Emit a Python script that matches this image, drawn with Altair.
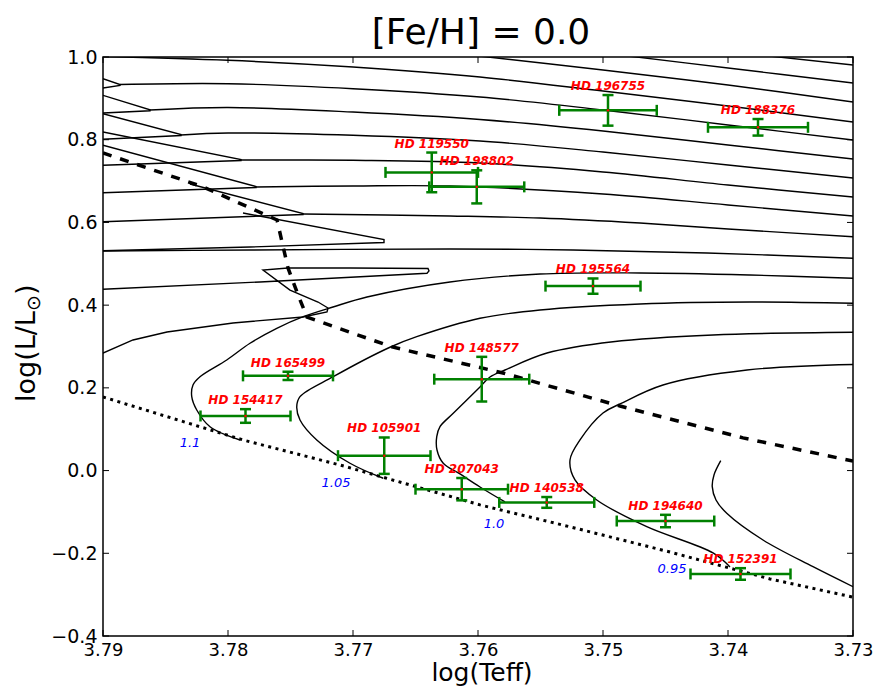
import altair as alt
import pandas as pd

FONT = "DejaVu Sans"
GREEN = "#008000"
W, H = 750, 579

# ---------------- axes ----------------
x_ticks = [3.79, 3.78, 3.77, 3.76, 3.75, 3.74, 3.73]
y_ticks = [-0.4, -0.2, 0.0, 0.2, 0.4, 0.6, 0.8, 1.0]

# ---------------- stars ----------------
star_names = ["HD 196755", "HD 188376", "HD 119550", "HD 198802", "HD 195564",
              "HD 165499", "HD 154417", "HD 105901", "HD 207043", "HD 148577",
              "HD 140538", "HD 194640", "HD 152391"]
star_logteff = [3.7496, 3.7376, 3.7637, 3.7601, 3.7508, 3.7752, 3.7786,
                3.7675, 3.7613, 3.7597, 3.7545, 3.7450, 3.7390]
star_logteff_err = [0.0039, 0.0040, 0.0037, 0.0038, 0.0038, 0.0036, 0.0036,
                    0.0037, 0.0037, 0.0038, 0.0038, 0.0039, 0.0040]
star_logl = [0.871, 0.830, 0.721, 0.686, 0.446, 0.229, 0.132,
             0.036, -0.045, 0.221, -0.077, -0.122, -0.250]
star_logl_err = [0.037, 0.020, 0.048, 0.040, 0.0185, 0.010, 0.0165,
                 0.044, 0.027, 0.054, 0.013, 0.015, 0.014]

# ---------------- mass labels on the ZAMS ----------------
mass_labels = ["1.1", "1.05", "1.0", "0.95"]
mass_logteff = [3.78304, 3.77136, 3.75872, 3.74448]
mass_logl = [0.0667, -0.030, -0.129, -0.238]

# ---------------- ZAMS (dotted) and TAMS (dashed) ----------------
zams_t = [3.79, 3.7788, 3.77104, 3.75984, 3.75264, 3.74464, 3.73664, 3.73]
zams_l = [0.178, 0.074, 0.0135, -0.083, -0.136, -0.197, -0.262, -0.306]
tams_t = [3.79, 3.782, 3.77608, 3.7752, 3.7744, 3.77368, 3.76688, 3.758, 3.74864, 3.7388, 3.73]
tams_l = [0.768, 0.686, 0.606, 0.490, 0.425, 0.371, 0.299, 0.236, 0.156, 0.079, 0.023]

# ---------------- evolutionary tracks (smooth curves) ----------------
trk090_t = [3.74058, 3.74112, 3.74126, 3.74096, 3.7401, 3.7372, 3.7332, 3.73]
trk090_l = [0.0239, -0.0106, -0.0389, -0.0711, -0.1032, -0.1678, -0.2324, -0.2807]
trk095_t = [3.73984, 3.7412, 3.7465, 3.7505, 3.75224, 3.75264, 3.75184, 3.7500, 3.74864, 3.7452, 3.73848, 3.73]
trk095_l = [-0.2331, -0.1992, -0.1356, -0.0711, -0.0227, 0.0256, 0.0740, 0.1393, 0.1610, 0.2070, 0.2432, 0.2565]
trk100_t = [3.75784, 3.75984, 3.76144, 3.76278, 3.76328, 3.7633, 3.76304, 3.76198, 3.75984, 3.75904,
            3.75784, 3.75448, 3.7492, 3.7412, 3.73]
trk100_l = [-0.0759, -0.0397, -0.0082, 0.0177, 0.0498, 0.0820, 0.1061, 0.1385, 0.2021, 0.2263,
            0.2432, 0.2843, 0.3116, 0.3279, 0.3344]
trk105_t = [3.76758, 3.77024, 3.7729, 3.77424, 3.7745, 3.77424, 3.77158, 3.7670, 3.7649, 3.75984,
            3.75504, 3.74704, 3.73824, 3.73]
trk105_l = [-0.0186, 0.0177, 0.0740, 0.1223, 0.1545, 0.1787, 0.2270, 0.2988, 0.3237, 0.3682,
            0.3883, 0.4028, 0.4076, 0.4045]
trk110_t = [3.77904, 3.78144, 3.7825, 3.7829, 3.7828, 3.78224, 3.7801, 3.77824, 3.7761, 3.77398,
            3.7716, 3.76888, 3.76224, 3.75504, 3.74704, 3.73824, 3.73]
trk110_l = [0.0740, 0.1061, 0.1465, 0.1787, 0.2070, 0.2270, 0.2674, 0.3078, 0.3440, 0.3721,
            0.3955, 0.4197, 0.4560, 0.4753, 0.4778, 0.4729, 0.4649]

# long sub-giant branches crossing the plot
top1_t = [3.76064, 3.75, 3.74, 3.73]
top1_l = [1.0048, 0.9686, 0.9323, 0.8912]
top2_t = [3.74864, 3.74, 3.73]
top2_l = [1.0048, 0.9734, 0.9371]
top3_t = [3.73744, 3.73]
top3_l = [1.0048, 0.9807]
linea_t = [3.7912, 3.78, 3.77, 3.75984, 3.75, 3.74, 3.73]
linea_l = [1.002, 0.992, 0.9758, 0.9516, 0.9178, 0.8815, 0.8428]
long1_t = [3.78864, 3.78, 3.77, 3.75984, 3.75, 3.74, 3.73]
long1_l = [0.9335, 0.9354, 0.9234, 0.9033, 0.8719, 0.8356, 0.7993]
long2_t = [3.78624, 3.78, 3.77, 3.75984, 3.75, 3.74, 3.73]
long2_l = [0.8719, 0.8779, 0.867, 0.8489, 0.8211, 0.7872, 0.7534]
long3_t = [3.78376, 3.78, 3.77, 3.75984, 3.75, 3.74, 3.73]
long3_l = [0.8114, 0.8162, 0.8107, 0.7969, 0.7703, 0.7389, 0.7074]
long4_t = [3.77896, 3.77, 3.75984, 3.75, 3.74, 3.73]
long4_l = [0.751, 0.7502, 0.7437, 0.722, 0.6905, 0.6615]
long5_t = [3.77776, 3.77, 3.76224, 3.75, 3.74, 3.73]
long5_l = [0.6857, 0.6881, 0.6881, 0.6688, 0.6422, 0.6156]
long6_t = [3.774, 3.76224, 3.75504, 3.74704, 3.74, 3.73]
long6_l = [0.6204, 0.6156, 0.6107, 0.5986, 0.5841, 0.5655]
long7_t = [3.79, 3.77824, 3.76224, 3.7524, 3.74168, 3.73]
long7_l = [0.5309, 0.5334, 0.5358, 0.5334, 0.5261, 0.5133]

# ---------------- hooks (straight segments) ----------------
hook1_t = [3.79, 3.78864, 3.78864, 3.79]
hook1_l = [0.9475, 0.9335, 0.9311, 0.925]
hook2_t = [3.79, 3.78624, 3.78624, 3.79]
hook2_l = [0.9074, 0.8723, 0.8699, 0.8646]
hook3_t = [3.79, 3.78376, 3.78376, 3.79]
hook3_l = [0.8629, 0.8126, 0.8102, 0.801]
hook4_t = [3.79, 3.77896, 3.77896, 3.79]
hook4_l = [0.8187, 0.7522, 0.7498, 0.7382]
hook5_t = [3.79, 3.77776, 3.77776, 3.79]
hook5_l = [0.7865, 0.6869, 0.6845, 0.6719]
hook6_t = [3.78304, 3.774, 3.774, 3.79]
hook6_l = [0.6929, 0.6216, 0.6192, 0.6018]
hook7_t = [3.7788, 3.76752, 3.76752, 3.77824, 3.79]
hook7_l = [0.6228, 0.5587, 0.5515, 0.5406, 0.5317]
trk115_t = [3.79104, 3.79, 3.7876, 3.78488, 3.7796, 3.774, 3.77208, 3.772, 3.7728, 3.77504,
            3.7772, 3.7752, 3.77024, 3.764, 3.76392, 3.76408, 3.77744, 3.79]
trk115_l = [0.2674, 0.2843, 0.3158, 0.3351, 0.3569, 0.3714, 0.3835, 0.3931, 0.4076, 0.4365,
            0.4850, 0.4898, 0.4898, 0.4886, 0.4826, 0.4770, 0.4560, 0.4383]


def rows(name, ts, ls):
    return [{"seg": name, "ord": i, "T": t, "L": l} for i, (t, l) in enumerate(zip(ts, ls))]


smooth = []
for nm, ts, ls in [("t090", trk090_t, trk090_l), ("t095", trk095_t, trk095_l),
                   ("t100", trk100_t, trk100_l), ("t105", trk105_t, trk105_l),
                   ("t110", trk110_t, trk110_l), ("top1", top1_t, top1_l),
                   ("top2", top2_t, top2_l), ("top3", top3_t, top3_l),
                   ("la", linea_t, linea_l), ("g1", long1_t, long1_l),
                   ("g2", long2_t, long2_l), ("g3", long3_t, long3_l),
                   ("g4", long4_t, long4_l), ("g5", long5_t, long5_l),
                   ("g6", long6_t, long6_l), ("g7", long7_t, long7_l)]:
    smooth += rows(nm, ts, ls)
sharp = []
for nm, ts, ls in [("h1", hook1_t, hook1_l), ("h2", hook2_t, hook2_l),
                   ("h3", hook3_t, hook3_l), ("h4", hook4_t, hook4_l),
                   ("h5", hook5_t, hook5_l), ("h6", hook6_t, hook6_l),
                   ("h7", hook7_t, hook7_l), ("t115", trk115_t, trk115_l)]:
    sharp += rows(nm, ts, ls)

df_smooth = pd.DataFrame(smooth)
df_sharp = pd.DataFrame(sharp)
df_zams = pd.DataFrame(rows("zams", zams_t, zams_l))
df_tams = pd.DataFrame(rows("tams", tams_t, tams_l))

stars = pd.DataFrame({
    "name": star_names, "T": star_logteff, "L": star_logl,
})
stars["tlo"] = [t - e for t, e in zip(star_logteff, star_logteff_err)]
stars["thi"] = [t + e for t, e in zip(star_logteff, star_logteff_err)]
stars["llo"] = [l - e for l, e in zip(star_logl, star_logl_err)]
stars["lhi"] = [l + e for l, e in zip(star_logl, star_logl_err)]

masses = pd.DataFrame({"lab": mass_labels, "T": mass_logteff, "L": mass_logl})
xt = pd.DataFrame({"v": x_ticks})
yt = pd.DataFrame({"v": y_ticks})

xscale = alt.Scale(domain=[3.73, 3.79], reverse=True, nice=False, zero=False)
yscale = alt.Scale(domain=[-0.4, 1.0], nice=False, zero=False)
xaxis = alt.Axis(values=x_ticks, format=".2f", ticks=False, tickSize=0, domain=False, grid=False,
                 labelFontSize=18, labelPadding=5, labelColor="black", labelFont=FONT,
                 labelOverlap=False, labelFlush=False, title="")
yaxis = alt.Axis(values=y_ticks, format=".1f", ticks=False, tickSize=0, domain=False, grid=False,
                 labelFontSize=19, labelPadding=6, labelColor="black", labelFont=FONT,
                 labelOverlap=False, labelFlush=False, title="")


def X(f):
    return alt.X(f"{f}:Q", scale=xscale, axis=xaxis)


def Y(f):
    return alt.Y(f"{f}:Q", scale=yscale, axis=yaxis)


smooth_layer = alt.Chart(df_smooth).mark_line(
    color="black", strokeWidth=1.4, interpolate="catmull-rom", clip=True
).encode(x=X("T"), y=Y("L"), detail="seg:N", order="ord:Q")
sharp_layer = alt.Chart(df_sharp).mark_line(
    color="black", strokeWidth=1.4, interpolate="linear", clip=True
).encode(x=X("T"), y=Y("L"), detail="seg:N", order="ord:Q")
tams_layer = alt.Chart(df_tams).mark_line(
    color="black", strokeWidth=3.5, strokeDash=[9, 9], clip=True
).encode(x=X("T"), y=Y("L"), order="ord:Q")
zams_layer = alt.Chart(df_zams).mark_line(
    color="black", strokeWidth=3, strokeDash=[3, 4.5], clip=True
).encode(x=X("T"), y=Y("L"), order="ord:Q")

xerr = alt.Chart(stars).mark_rule(color=GREEN, strokeWidth=2.5).encode(
    x=X("tlo"), x2="thi:Q", y=Y("L"))
yerr = alt.Chart(stars).mark_rule(color=GREEN, strokeWidth=2.5).encode(
    x=X("T"), y=Y("llo"), y2="lhi:Q")
xcaps = alt.Chart(stars).transform_fold(["tlo", "thi"], as_=["k", "cx"]).mark_tick(
    orient="vertical", size=11, thickness=2.5, color=GREEN, opacity=1
).encode(x=X("cx"), y=Y("L"))
ycaps = alt.Chart(stars).transform_fold(["llo", "lhi"], as_=["k", "cy"]).mark_tick(
    orient="horizontal", size=11, thickness=2.5, color=GREEN, opacity=1
).encode(x=X("T"), y=Y("cy"))
dots = alt.Chart(stars).mark_point(filled=True, size=6, color="red", opacity=1).encode(
    x=X("T"), y=Y("L"))
star_text = alt.Chart(stars).mark_text(
    color="red", fontStyle="italic", fontWeight="bold", fontSize=12, font=FONT,
    dy=-9, align="center", baseline="middle"
).encode(x=X("T"), y=Y("lhi"), text="name:N")
mass_text = alt.Chart(masses).mark_text(
    color="blue", fontStyle="italic", fontSize=13, font=FONT, align="center", baseline="middle"
).encode(x=X("T"), y=Y("L"), text="lab:N")

tick_bottom = alt.Chart(xt).mark_rule(color="black", strokeWidth=1).encode(
    x=X("v"), y=alt.value(H), y2=alt.value(H - 6))
tick_top = alt.Chart(xt).mark_rule(color="black", strokeWidth=1).encode(
    x=X("v"), y=alt.value(0), y2=alt.value(6))
tick_left = alt.Chart(yt).mark_rule(color="black", strokeWidth=1).encode(
    y=Y("v"), x=alt.value(0), x2=alt.value(6))
tick_right = alt.Chart(yt).mark_rule(color="black", strokeWidth=1).encode(
    y=Y("v"), x=alt.value(W - 6), x2=alt.value(W))

title_text = alt.Chart(pd.DataFrame({"t": ["[Fe/H] = 0.0"]})).mark_text(
    fontSize=36, font=FONT, align="center", baseline="alphabetic", color="black"
).encode(x=alt.value(378), y=alt.value(-13), text="t:N")

xlab_text = alt.Chart(pd.DataFrame({"t": ["log(Teff)"]})).mark_text(
    fontSize=25, font=FONT, align="center", baseline="alphabetic", color="black"
).encode(x=alt.value(379), y=alt.value(H + 45), text="t:N")

YT_BASE_X = -68
YT_START_Y = 345
ylab_main = alt.Chart(pd.DataFrame({"t": ["log(L/L"]})).mark_text(
    fontSize=27, font=FONT, angle=270, align="left", baseline="alphabetic", color="black"
).encode(x=alt.value(YT_BASE_X), y=alt.value(YT_START_Y), text="t:N")
ylab_sub = alt.Chart(pd.DataFrame({"t": ["⊙"]})).mark_text(
    fontSize=19, font=FONT, angle=270, align="left", baseline="alphabetic", color="black"
).encode(x=alt.value(YT_BASE_X + 5), y=alt.value(YT_START_Y - 91), text="t:N")
ylab_end = alt.Chart(pd.DataFrame({"t": [")"]})).mark_text(
    fontSize=27, font=FONT, angle=270, align="left", baseline="alphabetic", color="black"
).encode(x=alt.value(YT_BASE_X), y=alt.value(YT_START_Y - 91 - 16), text="t:N")

chart = alt.layer(
    smooth_layer, sharp_layer, tams_layer, zams_layer,
    xerr, yerr, xcaps, ycaps, dots, star_text, mass_text,
    tick_bottom, tick_top, tick_left, tick_right,
    title_text, xlab_text, ylab_main, ylab_sub, ylab_end
).properties(
    width=W, height=H,
    autosize=alt.AutoSizeParams(type="none"),
    padding={"left": 95, "top": 49, "right": 21, "bottom": 50},
).configure(font=FONT).configure_view(stroke="black", strokeWidth=1.5)

chart.save("out.html", embed_options={"renderer": "svg", "actions": False})
